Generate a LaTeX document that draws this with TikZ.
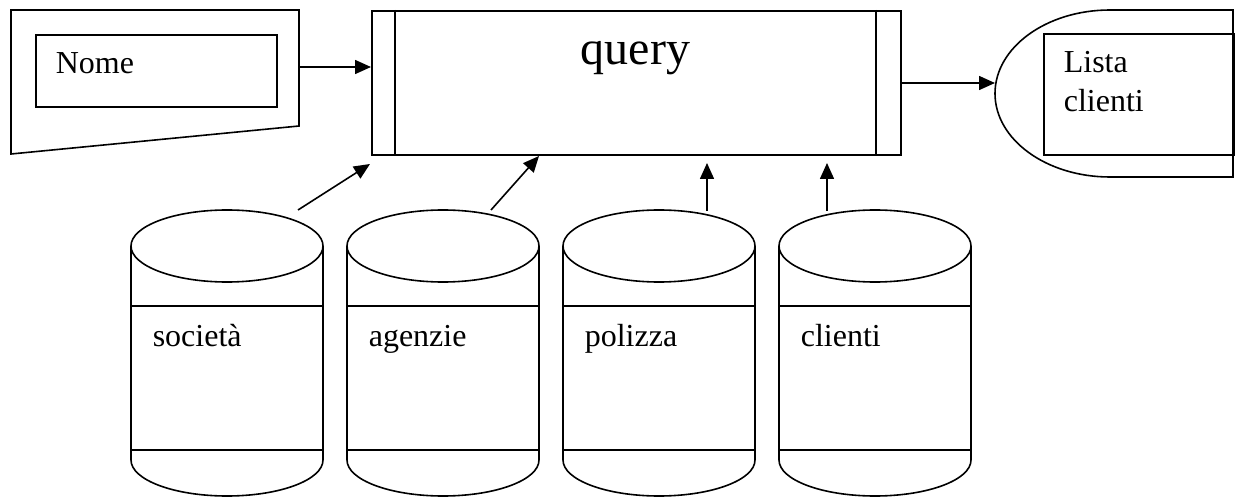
\documentclass[tikz,border=0pt]{standalone}
\usepackage{fontspec}
\setmainfont{Liberation Serif}
\usetikzlibrary{arrows.meta}
\begin{document}
\begin{tikzpicture}[x=1pt,y=-1pt,line width=1.6pt,
  arr/.style={-{Triangle[length=16pt,width=14pt]}},
  lbl/.style={font=\fontsize{32}{39}\selectfont,anchor=base west,inner sep=0pt},
  frame/.style={draw,rectangle,inner sep=0pt,anchor=north west}]
\useasboundingbox (0,0) rectangle (1235,497);
% input screen
\draw (11,10) -- (299,10) -- (299,126) -- (11,154) -- cycle;
\node[frame,minimum width=241pt,minimum height=72pt] (nomebox) at (35,34) {};
\node[lbl] (nome) at (55,74) {Nome};
\coordinate (inR) at (299,67);
% query process
\node[frame,minimum width=529pt,minimum height=144pt] (q) at (371,10) {};
\draw (395,10) -- (395,154) (876,10) -- (876,154);
\node[font=\fontsize{48}{56}\selectfont,anchor=base,inner sep=0pt] (qt) at (635.5,65) {query};
% output display
\draw (1233,10) -- (1110,10) arc[start angle=270,end angle=90,x radius=115,y radius=83.5] -- (1233,177) -- cycle;
\node[frame,minimum width=190pt,minimum height=121pt] (listbox) at (1043,33) {};
\node[font=\fontsize{32}{39}\selectfont,align=left,anchor=north west,inner sep=0pt] (lista) at (1063,51) {Lista\\clienti};
\coordinate (outL) at (995,83);
% cylinders
\foreach \cx/\nm/\txt in {227/c1/società,443/c2/agenzie,659/c3/polizza,875/c4/clienti}{
  \draw (\cx-96,246) -- (\cx-96,460) arc[start angle=180,end angle=0,x radius=96,y radius=36] -- (\cx+96,246);
  \draw (\cx,246) ellipse[x radius=96,y radius=36];
  \draw (\cx-96,306) -- (\cx+96,306) (\cx-96,450) -- (\cx+96,450);
  \coordinate (\nm) at (\cx,210);
  \node[lbl] (\nm t) at (\cx-75,346) {\txt};
}
\coordinate (a1s) at (298,210); \coordinate (a1e) at (370,164);
\coordinate (a2s) at (491,210); \coordinate (a2e) at (539,156);
\coordinate (a3s) at (707,211); \coordinate (a4s) at (827,211);
% connectors
\draw[arr] (inR) -- (inR -| q.west);
\draw[arr] (outL -| q.east) -- (outL);
\draw[arr] (a1s) -- (a1e);
\draw[arr] (a2s) -- (a2e);
\draw[arr] (a3s) -- (707,163);
\draw[arr] (a4s) -- (827,163);
\end{tikzpicture}
\end{document}
